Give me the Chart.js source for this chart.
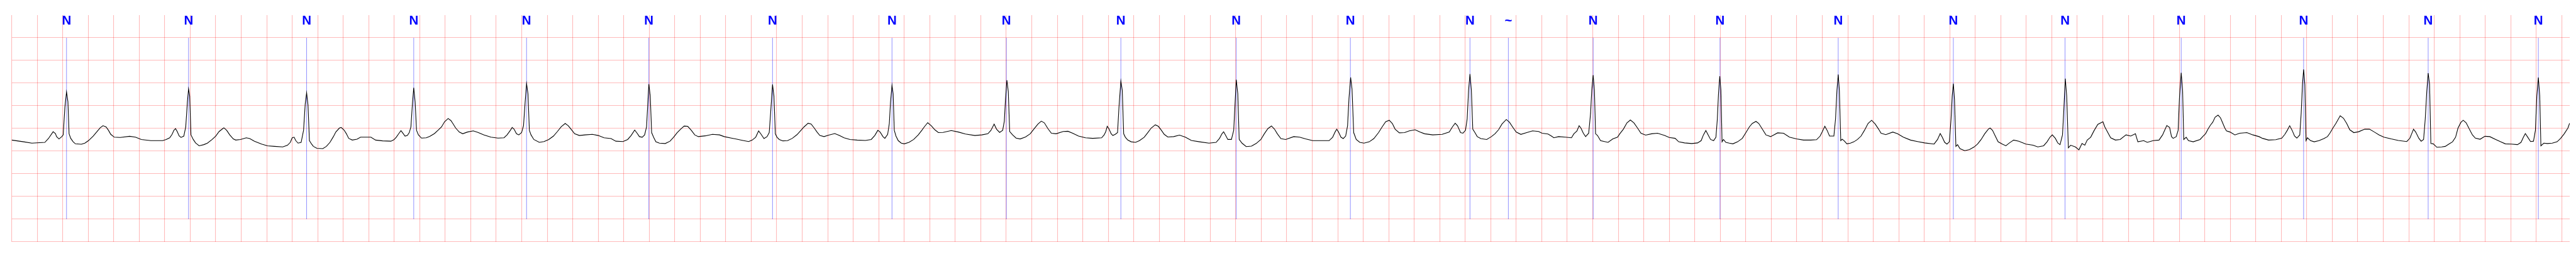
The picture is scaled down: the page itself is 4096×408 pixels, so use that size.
<!DOCTYPE html>
<html>
<head>
<meta charset="utf-8">
<title>ECG strip</title>
<script src="https://cdn.jsdelivr.net/npm/chart.js@4/dist/chart.umd.min.js"></script>
<style>
  html, body { margin: 0; padding: 0; background: #fff; }
  #ecg { display: block; }
</style>
</head>
<body>
<canvas id="ecg" width="4096" height="408"></canvas>
<script>
// Trace: time in seconds, amplitude in mV (grid: 0.2 s x 0.5 mV)
const ecgTime = [
  0.000,0.094,0.158,0.260,0.288,0.325,0.343,0.352,0.371,0.393,
  0.404,0.417,0.430,0.441,0.450,0.463,0.482,0.500,0.546,0.574,
  0.602,0.639,0.666,0.694,0.716,0.740,0.759,0.777,0.805,0.851,
  0.925,0.971,1.017,1.091,1.184,1.211,1.239,1.258,1.272,1.285,
  1.298,1.313,1.328,1.350,1.365,1.378,1.387,1.396,1.406,1.424,
  1.442,1.470,1.507,1.535,1.572,1.600,1.627,1.655,1.664,1.686,
  1.710,1.738,1.757,1.794,1.840,1.867,1.904,1.960,2.006,2.061,
  2.126,2.163,2.185,2.200,2.215,2.228,2.246,2.270,2.289,2.302,
  2.313,2.324,2.335,2.352,2.366,2.394,2.440,2.468,2.496,2.523,
  2.542,2.570,2.584,2.607,2.625,2.643,2.671,2.708,2.736,2.773,
  2.817,2.854,2.909,2.974,2.998,3.016,3.038,3.053,3.066,3.085,
  3.103,3.118,3.131,3.142,3.153,3.164,3.175,3.190,3.214,3.251,
  3.279,3.316,3.343,3.371,3.395,3.423,3.445,3.463,3.482,3.510,
  3.537,3.574,3.620,3.657,3.704,3.759,3.814,3.861,3.885,3.911,
  3.925,3.940,3.959,3.977,3.999,4.014,4.027,4.038,4.049,4.060,
  4.073,4.095,4.138,4.175,4.212,4.249,4.280,4.310,4.341,4.365,
  4.387,4.415,4.452,4.498,4.554,4.600,4.646,4.701,4.738,4.794,
  4.831,4.858,4.886,4.905,4.923,4.945,4.964,4.979,4.988,4.997,
  5.008,5.019,5.034,5.052,5.080,5.126,5.163,5.191,5.219,5.246,
  5.274,5.302,5.330,5.357,5.385,5.440,5.496,5.551,5.588,5.644,
  5.677,
  5.734,5.780,5.808,5.835,5.858,5.876,5.900,5.924,5.941,5.952,
  5.967,5.978,5.989,6.002,6.020,6.048,6.085,6.122,6.159,6.190,
  6.214,6.246,6.270,6.294,6.316,6.338,6.371,6.408,6.455,6.491,
  6.528,6.575,6.630,6.695,6.741,6.769,6.793,6.811,6.833,6.848,
  6.870,6.883,6.892,6.904,6.913,6.922,6.935,6.953,6.977,7.000,
  7.037,7.074,7.110,7.138,7.157,7.184,7.212,7.240,7.268,7.304,
  7.369,7.425,7.480,7.554,7.609,7.656,7.680,7.705,7.724,7.748,
  7.772,7.785,7.794,7.805,7.816,7.827,7.850,7.877,7.909,7.951,
  7.988,8.016,8.049,8.075,8.099,8.127,8.154,8.191,8.247,8.284,
  8.321,8.367,8.422,8.478,8.548,
  8.568,8.581,8.592,8.605,8.623,8.636,8.655,8.673,8.684,8.699,
  8.710,8.721,8.734,8.753,8.780,8.814,8.845,8.882,8.910,8.937,
  8.969,8.993,9.017,9.039,9.067,9.113,9.159,9.205,9.252,9.316,
  9.390,9.446,9.473,9.492,9.505,9.519,9.538,9.566,9.584,9.593,
  9.604,9.616,9.627,9.649,9.682,9.723,9.760,9.797,9.824,9.852,
  9.880,9.904,9.926,9.954,9.991,10.055,10.101,10.148,10.203,10.277,
  10.332,10.360,10.379,10.392,10.406,10.425,10.443,10.462,10.477,10.488,
  10.501,10.512,10.525,10.545,10.573,10.606,10.647,10.683,10.720,10.748,
  10.776,10.804,10.828,10.850,10.883,10.924,10.961,11.007,11.044,11.081,
  11.145,11.219,11.275,11.299,11.321,11.339,11.363,11.382,
  11.402,11.415,11.426,11.437,11.448,11.459,11.476,11.494,11.522,11.568,
  11.605,11.633,11.661,11.688,11.722,11.747,11.771,11.799,11.836,11.882,
  11.928,11.975,12.002,12.049,12.076,12.095,12.132,12.187,12.233,12.252,
  12.276,12.293,12.307,12.326,12.344,12.368,12.383,12.392,12.403,12.413,
  12.422,12.437,12.461,12.492,12.520,12.557,12.594,12.612,12.640,12.668,
  12.695,12.723,12.751,12.778,12.815,12.862,12.908,12.963,13.000,13.046,
  13.074,13.120,13.176,13.222,13.250,13.268,13.287,13.305,13.324,13.348,
  13.366,13.377,13.386,13.396,13.405,13.414,13.425,13.444,13.471,13.499,
  13.536,13.573,13.601,13.628,13.651,13.680,13.702,13.730,13.758,13.795,
  13.850,13.896,13.943,13.998,14.053,14.109,14.155,14.183,14.201,14.220,
  14.238,14.257,
  14.291,14.304,14.315,14.325,14.334,14.345,14.356,14.371,14.393,14.421,
  14.448,14.476,14.504,14.531,14.559,14.587,14.615,14.642,14.661,14.698,
  14.753,14.790,14.836,14.892,14.947,15.003,15.077,15.104,15.125,15.141,
  15.160,15.178,15.197,15.210,15.219,15.228,15.237,15.248,15.261,15.280,
  15.317,15.354,15.391,15.418,15.446,15.474,15.502,15.516,15.535,15.557,
  15.579,15.612,15.640,15.668,15.701,15.742,15.797,15.853,15.890,15.936,
  15.963,15.986,16.004,16.028,16.047,16.065,16.084,16.093,16.106,16.117,
  16.130,16.148,16.185,16.213,16.237,16.259,16.278,16.305,16.333,16.361,
  16.401,16.416,16.435,16.462,16.499,16.536,16.582,16.619,16.656,16.675,
  16.721,16.749,16.795,16.841,16.869,16.887,16.902,16.924,16.939,16.952,
  16.976,16.991,17.002,17.015,17.026,17.035,17.054,17.072,17.109,
  17.163,17.187,17.206,17.225,17.244,17.262,17.281,17.304,17.323,17.342,
  17.357,17.370,17.398,17.436,17.474,17.530,17.577,17.625,17.653,17.700,
  17.757,17.804,17.828,17.847,17.866,17.885,17.904,17.922,17.945,17.956,
  17.966,17.975,17.985,17.994,18.005,18.030,18.058,18.096,18.134,18.162,
  18.181,18.205,18.228,18.262,18.288,18.313,18.337,18.369,18.407,18.454,
  18.492,18.530,18.567,18.605,18.662,18.718,18.784,18.809,18.828,18.837,
  18.854,18.879,18.897,18.916,18.929,18.941,18.952,18.963,18.973,18.992,
  19.020,19.058,19.086,19.114,19.143,19.167,19.186,19.209,19.227,19.250,
  19.275,19.299,19.322,19.359,19.397,19.435,19.482,19.520,19.557,19.605,
  19.652,19.680,19.699,19.714,19.733,19.755,19.778,19.793,19.804,19.816,
  19.827,19.836,19.859,19.887,19.925,19.963,19.991,20.019,20.048,20.061
];

const ecgMv = [
  -0.255,-0.293,-0.323,-0.306,-0.222,-0.071,-0.111,-0.179,-0.230,-0.179,
  -0.141,0.465,0.806,0.591,-0.116,-0.217,-0.293,-0.338,-0.348,-0.323,
  -0.268,-0.167,-0.078,0.015,0.061,0.035,-0.040,-0.129,-0.192,-0.197,
  -0.172,-0.192,-0.242,-0.268,-0.268,-0.242,-0.205,-0.129,-0.040,-0.003,
  -0.066,-0.162,-0.197,-0.167,0.035,0.591,0.874,0.717,-0.141,-0.242,
  -0.318,-0.381,-0.356,-0.323,-0.242,-0.167,-0.066,-0.003,0.015,-0.040,
  -0.141,-0.230,-0.255,-0.242,-0.205,-0.222,-0.280,-0.343,-0.381,-0.394,
  -0.407,-0.369,-0.306,-0.205,-0.192,-0.268,-0.323,-0.306,-0.040,0.540,
  0.788,0.515,-0.268,-0.343,-0.394,-0.437,-0.444,-0.394,-0.306,-0.179,
  -0.078,0.010,0.023,-0.035,-0.116,-0.217,-0.255,-0.237,-0.192,-0.192,
  -0.192,-0.255,-0.273,-0.280,-0.247,-0.192,-0.104,-0.048,-0.096,-0.167,
  -0.154,-0.091,0.035,0.515,0.899,0.591,-0.040,-0.141,-0.212,-0.205,
  -0.172,-0.111,-0.040,0.035,0.149,0.220,0.174,0.098,0.010,-0.078,
  -0.116,-0.078,-0.053,-0.086,-0.141,-0.192,-0.212,-0.205,-0.141,-0.040,
  0.023,-0.015,-0.116,-0.141,-0.091,0.061,0.591,0.990,0.768,-0.040,
  -0.141,-0.242,-0.306,-0.288,-0.242,-0.167,-0.066,0.040,0.111,0.061,
  -0.015,-0.116,-0.154,-0.141,-0.129,-0.154,-0.205,-0.222,-0.280,-0.288,
  -0.242,-0.154,-0.033,-0.104,-0.179,-0.192,-0.141,0.035,0.515,0.980,
  0.717,-0.091,-0.192,-0.293,-0.323,-0.331,-0.280,-0.192,-0.091,-0.015,
  0.053,0.048,-0.040,-0.141,-0.179,-0.162,-0.129,-0.141,-0.179,-0.212,
  -0.230,
  -0.263,-0.288,-0.255,-0.192,-0.053,-0.121,-0.222,-0.179,-0.091,0.338,
  0.970,0.717,-0.116,-0.192,-0.242,-0.273,-0.268,-0.217,-0.136,-0.040,
  0.035,0.116,0.098,0.010,-0.078,-0.154,-0.179,-0.146,-0.111,-0.154,
  -0.205,-0.242,-0.255,-0.263,-0.242,-0.154,-0.040,-0.078,-0.179,-0.217,
  -0.129,0.111,0.566,0.952,0.768,-0.040,-0.167,-0.268,-0.323,-0.338,
  -0.306,-0.242,-0.141,-0.040,0.035,0.129,0.061,-0.028,-0.091,-0.086,
  -0.045,-0.078,-0.121,-0.154,-0.141,-0.116,-0.040,0.098,-0.015,-0.086,
  -0.040,0.162,0.641,1.066,0.818,-0.066,-0.141,-0.212,-0.230,-0.187,
  -0.116,-0.015,0.098,0.162,0.124,-0.003,-0.104,-0.116,-0.066,-0.061,
  -0.104,-0.167,-0.205,-0.217,-0.205,
  -0.141,-0.066,0.048,-0.003,-0.116,-0.154,-0.129,-0.091,0.465,1.045,
  0.843,-0.116,-0.192,-0.255,-0.293,-0.306,-0.268,-0.192,-0.091,0.010,
  0.081,0.048,-0.040,-0.129,-0.187,-0.179,-0.146,-0.192,-0.263,-0.293,
  -0.323,-0.306,-0.217,-0.116,-0.071,-0.141,-0.242,-0.242,-0.040,0.465,
  1.076,0.768,-0.242,-0.323,-0.399,-0.389,-0.331,-0.242,-0.116,-0.003,
  0.056,-0.015,-0.116,-0.222,-0.242,-0.179,-0.192,-0.230,-0.268,-0.268,
  -0.268,-0.192,-0.078,-0.015,-0.078,-0.192,-0.222,-0.167,0.061,0.667,
  1.126,0.869,-0.091,-0.242,-0.306,-0.323,-0.293,-0.222,-0.091,0.035,
  0.149,0.182,0.111,-0.015,-0.096,-0.091,-0.053,-0.028,-0.078,-0.116,
  -0.141,-0.129,-0.078,0.035,0.116,0.061,-0.091,-0.104,
  -0.040,0.212,0.843,1.202,0.843,-0.015,-0.091,-0.179,-0.222,-0.242,
  -0.179,-0.116,-0.028,0.098,0.199,0.136,0.035,-0.078,-0.129,-0.091,
  -0.053,-0.066,-0.104,-0.121,-0.167,-0.205,-0.179,-0.192,-0.205,-0.116,
  -0.053,0.061,0.010,-0.104,-0.179,-0.104,0.338,0.843,1.177,0.843,
  -0.116,-0.154,-0.268,-0.288,-0.306,-0.230,-0.192,-0.116,-0.015,0.124,
  0.187,0.124,0.010,-0.104,-0.146,-0.116,-0.104,-0.154,-0.197,-0.217,
  -0.293,-0.318,-0.331,-0.318,-0.268,-0.141,-0.045,-0.141,-0.242,-0.268,
  -0.192,0.212,0.768,1.152,0.843,-0.293,-0.242,-0.306,-0.323,-0.338,
  -0.293,-0.217,-0.091,0.035,0.111,0.157,0.111,-0.015,-0.141,-0.179,
  -0.096,-0.104,-0.192,-0.230,-0.255,-0.255,-0.247,-0.167,-0.066,0.048,
  -0.040,-0.167,
  -0.167,0.212,0.843,1.192,0.843,-0.268,-0.237,-0.268,-0.338,-0.323,
  -0.293,-0.242,-0.167,-0.040,0.111,0.182,0.098,-0.015,-0.104,-0.136,
  -0.078,-0.116,-0.192,-0.255,-0.288,-0.318,-0.343,-0.242,-0.111,-0.192,
  -0.306,-0.343,-0.293,0.212,0.717,0.990,0.641,-0.394,-0.356,-0.444,
  -0.490,-0.465,-0.407,-0.343,-0.242,-0.116,-0.015,0.010,-0.040,-0.167,
  -0.293,-0.343,-0.381,-0.318,-0.255,-0.280,-0.343,-0.369,-0.407,-0.381,
  -0.293,-0.192,-0.141,-0.217,-0.318,-0.356,-0.141,0.338,1.101,0.717,
  -0.424,-0.369,-0.407,-0.470,-0.331,-0.369,-0.255,-0.192,-0.040,0.091,
  0.149,0.035,-0.066,-0.205,-0.255,-0.242,-0.141,-0.167,-0.116,-0.293,
  -0.268,-0.306,-0.268,-0.255,-0.141,-0.028,0.066,0.023,-0.179,-0.217,
  -0.179,-0.040,0.717,1.227,0.843,-0.242,-0.192,-0.268,-0.293,
  -0.242,-0.167,-0.116,-0.015,0.073,0.136,0.250,0.295,0.237,0.111,
  0.010,-0.053,-0.078,-0.141,-0.104,-0.091,-0.141,-0.179,-0.217,-0.255,
  -0.247,-0.212,-0.129,-0.040,0.061,-0.040,-0.167,-0.212,-0.141,0.338,
  0.970,1.303,0.970,-0.268,-0.205,-0.268,-0.293,-0.268,-0.222,-0.179,
  -0.104,0.010,0.111,0.280,0.225,0.111,-0.028,-0.091,-0.071,-0.015,
  -0.015,-0.078,-0.141,-0.192,-0.230,-0.263,-0.288,-0.212,-0.078,-0.015,
  -0.078,-0.217,-0.280,-0.242,0.212,0.818,1.222,0.970,-0.331,-0.338,
  -0.414,-0.407,-0.394,-0.343,-0.293,-0.192,0.010,0.136,0.182,0.124,
  -0.015,-0.141,-0.212,-0.237,-0.172,-0.179,-0.242,-0.293,-0.338,-0.343,
  -0.356,-0.306,-0.192,-0.111,-0.192,-0.288,-0.280,-0.040,0.717,1.126,
  0.717,-0.381,-0.323,-0.331,-0.323,-0.293,-0.217,-0.116,0.010,0.116
];

// Beat annotations (time in s) and their symbols
const beatTimes = [
  0.430, 1.387, 2.313, 3.153, 4.038, 4.997, 5.967, 6.904, 7.801, 8.699,
  9.604, 10.499, 11.437, 11.738, 12.403, 13.398, 14.325, 15.228, 16.104, 17.015,
  17.975, 18.952, 19.816
];
const beatLabels = [
  'N', 'N', 'N', 'N', 'N', 'N', 'N', 'N', 'N', 'N',
  'N', 'N', 'N', '~', 'N', 'N', 'N', 'N', 'N', 'N',
  'N', 'N', 'N'
];

// Axis extents and grid spacing
const timeEnd = 20.062;
const timeStep = 0.2;
const mvMin = -2.5;
const mvMax = 2.5;
const mvStep = 0.5;
const markTop = 2.0;
const markBottom = -2.0;
const labelBaseline = 2.296;

if (ecgTime.length !== ecgMv.length) {
  console.warn('trace arrays differ:', ecgTime.length, ecgMv.length);
}

const ecgPoints = ecgTime.map((t, i) => ({ x: t, y: ecgMv[i] }));

// Blue beat markers and their symbols, drawn under the trace
const beatMarks = {
  id: 'beatMarks',
  beforeDatasetsDraw(chart) {
    const { ctx, scales: { x, y } } = chart;
    ctx.save();
    ctx.strokeStyle = 'rgba(0, 0, 255, 0.55)';
    ctx.lineWidth = 0.8;
    ctx.fillStyle = '#0000ff';
    ctx.font = 'bold 20.5px "Liberation Sans", Arial, sans-serif';
    ctx.textAlign = 'center';
    ctx.textBaseline = 'alphabetic';
    beatTimes.forEach((t, i) => {
      const px = x.getPixelForValue(t);
      ctx.beginPath();
      ctx.moveTo(px, y.getPixelForValue(markTop));
      ctx.lineTo(px, y.getPixelForValue(markBottom));
      ctx.stroke();
      ctx.fillText(beatLabels[i], px, y.getPixelForValue(labelBaseline));
    });
    ctx.restore();
  }
};

const gridColor = 'rgba(255, 0, 0, 0.27)';

new Chart(document.getElementById('ecg'), {
  type: 'line',
  data: {
    datasets: [{
      data: ecgPoints,
      borderColor: '#000000',
      borderWidth: 1.1,
      pointRadius: 0,
      tension: 0,
      fill: false
    }]
  },
  options: {
    responsive: false,
    animation: false,
    parsing: false,
    layout: { padding: { left: 18.6, right: 10, top: 24, bottom: 24 } },
    plugins: {
      legend: { display: false },
      tooltip: { enabled: false }
    },
    scales: {
      x: {
        type: 'linear',
        min: 0,
        max: timeEnd,
        afterBuildTicks(scale) {
          const ticks = [];
          for (let i = 0; i * timeStep <= timeEnd; i++) ticks.push({ value: +(i * timeStep).toFixed(3) });
          scale.ticks = ticks;
        },
        afterFit(scale) { scale.height = 0; },
        ticks: { display: false },
        grid: { color: gridColor, lineWidth: 1.1, drawTicks: false },
        border: { display: false }
      },
      y: {
        type: 'linear',
        min: mvMin,
        max: mvMax,
        afterBuildTicks(scale) {
          // top edge has no line in the reference
          const ticks = [];
          for (let v = mvMin; v < mvMax - 1e-6; v += mvStep) ticks.push({ value: +v.toFixed(2) });
          scale.ticks = ticks;
        },
        afterFit(scale) { scale.width = 0; },
        ticks: { display: false },
        grid: { color: gridColor, lineWidth: 1.1, drawTicks: false },
        border: { display: false }
      }
    }
  },
  plugins: [beatMarks]
});
</script>
</body>
</html>
